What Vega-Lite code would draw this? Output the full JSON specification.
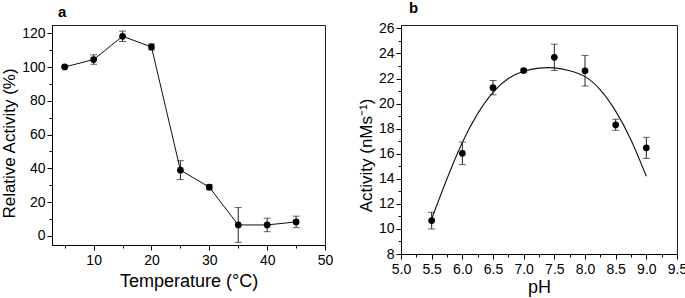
{
  "$schema": "https://vega.github.io/schema/vega-lite/v6.json",
  "padding": {"left": 0, "top": 0, "right": 5, "bottom": 0},
  "background": "white",
  "config": {
    "font": "Liberation Sans",
    "view": {"stroke": "#222", "strokeWidth": 1},
    "axis": {
      "grid": false,
      "labelFont": "Liberation Sans",
      "labelFontSize": 14,
      "labelColor": "#000",
      "titleFont": "Liberation Sans",
      "titleFontSize": 18,
      "titleFontWeight": "normal",
      "titleColor": "#000",
      "domainColor": "#000",
      "tickColor": "#000",
      "labelPadding": 2,
      "titlePadding": 3,
      "labelFlush": false,
      "labelOverlap": false
    },
    "title": {"font": "Liberation Sans", "fontSize": 15, "fontWeight": "bold", "color": "#000", "anchor": "start", "frame": "group"}
  },
  "datasets": {
    "temp": [
      {"temp": 5, "act": 100.1, "err": 0.5},
      {"temp": 10, "act": 104.5, "err": 2.8},
      {"temp": 15, "act": 118.3, "err": 3.1},
      {"temp": 20, "act": 112.0, "err": 1.8},
      {"temp": 25, "act": 38.9, "err": 5.6},
      {"temp": 30, "act": 28.8, "err": 1.5},
      {"temp": 35, "act": 6.4, "err": 10.3},
      {"temp": 40, "act": 6.4, "err": 4.0},
      {"temp": 45, "act": 8.2, "err": 3.4}
    ],
    "ph": [
      {"ph": 5.5, "act": 10.67, "err": 0.67},
      {"ph": 6.0, "act": 16.03, "err": 0.9},
      {"ph": 6.5, "act": 21.27, "err": 0.57},
      {"ph": 7.0, "act": 22.63, "err": 0.12},
      {"ph": 7.5, "act": 23.69, "err": 1.05},
      {"ph": 8.0, "act": 22.62, "err": 1.22},
      {"ph": 8.5, "act": 18.31, "err": 0.44},
      {"ph": 9.0, "act": 16.47, "err": 0.84}
    ],
    "fit": [
      {"ph": 5.5, "act": 10.8},
      {"ph": 5.75, "act": 14.0},
      {"ph": 6.0, "act": 16.9},
      {"ph": 6.25, "act": 19.2},
      {"ph": 6.5, "act": 20.9},
      {"ph": 6.75, "act": 22.0},
      {"ph": 7.0, "act": 22.58},
      {"ph": 7.25, "act": 22.83},
      {"ph": 7.5, "act": 22.85},
      {"ph": 7.75, "act": 22.62},
      {"ph": 8.0, "act": 22.15},
      {"ph": 8.25, "act": 21.1},
      {"ph": 8.5, "act": 19.4},
      {"ph": 8.75, "act": 17.1},
      {"ph": 9.0, "act": 14.2}
    ]
  },
  "spacing": 22,
  "hconcat": [
    {
      "title": {"text": "a", "offset": 5, "dx": 6},
      "width": 273,
      "height": 220,
      "data": {"name": "temp"},
      "encoding": {
        "x": {
          "field": "temp", "type": "quantitative",
          "scale": {"domain": [2.8, 50], "nice": false, "zero": false},
          "axis": {
            "title": "Temperature (°C)",
            "values": [5, 10, 15, 20, 25, 30, 35, 40, 45, 50],
            "labelExpr": "datum.value % 10 === 0 ? datum.label : ''",
            "tickSize": {"condition": {"test": "datum.value % 10 !== 0", "value": 3}, "value": 5},
            "labelPadding": 3,
            "titlePadding": 5
          }
        },
        "y": {
          "field": "act", "type": "quantitative",
          "scale": {"domain": [-5.5, 125], "nice": false, "zero": false},
          "axis": {
            "title": "Relative Activity (%)",
            "titleFontSize": 17,
            "titleY": 118,
            "values": [0, 10, 20, 30, 40, 50, 60, 70, 80, 90, 100, 110, 120],
            "labelExpr": "datum.value % 20 === 0 ? datum.label : ''",
            "tickSize": {"condition": {"test": "datum.value % 20 !== 0", "value": 3}, "value": 5}
          }
        }
      },
      "layer": [
        {"mark": {"type": "line", "color": "#111", "strokeWidth": 1}},
        {
          "mark": {"type": "errorbar", "color": "#222", "thickness": 1, "ticks": {"size": 7, "color": "#222"}},
          "encoding": {"yError": {"field": "err"}}
        },
        {"mark": {"type": "circle", "size": 45, "color": "#000", "opacity": 1}}
      ]
    },
    {
      "title": {"text": "b", "offset": 5, "dx": 8},
      "width": 276,
      "height": 229,
      "encoding": {
        "x": {
          "field": "ph", "type": "quantitative",
          "scale": {"domain": [5, 9.5], "nice": false, "zero": false},
          "axis": {
            "title": "pH",
            "values": [5, 5.25, 5.5, 5.75, 6, 6.25, 6.5, 6.75, 7, 7.25, 7.5, 7.75, 8, 8.25, 8.5, 8.75, 9, 9.25, 9.5],
            "labelExpr": "datum.value % 0.5 === 0 ? format(datum.value, '.1f') : ''",
            "tickSize": {"condition": {"test": "datum.value % 0.5 !== 0", "value": 3}, "value": 5},
            "labelPadding": 3,
            "titlePadding": 2
          }
        },
        "y": {
          "field": "act", "type": "quantitative",
          "scale": {"domain": [8, 26.27], "nice": false, "zero": false},
          "axis": {
            "title": "Activity (nMs⁻¹)",
            "titleFontSize": 17,
            "titleY": 130,
            "values": [8, 9, 10, 11, 12, 13, 14, 15, 16, 17, 18, 19, 20, 21, 22, 23, 24, 25, 26],
            "labelExpr": "datum.value % 2 === 0 ? datum.label : ''",
            "tickSize": {"condition": {"test": "datum.value % 2 !== 0", "value": 3}, "value": 5}
          }
        }
      },
      "layer": [
        {
          "data": {"name": "fit"},
          "mark": {"type": "line", "color": "#111", "strokeWidth": 1.1, "interpolate": "natural"}
        },
        {
          "data": {"name": "ph"},
          "mark": {"type": "errorbar", "color": "#222", "thickness": 1, "ticks": {"size": 7, "color": "#222"}},
          "encoding": {"yError": {"field": "err"}}
        },
        {
          "data": {"name": "ph"},
          "mark": {"type": "circle", "size": 45, "color": "#000", "opacity": 1}
        }
      ]
    }
  ]
}
